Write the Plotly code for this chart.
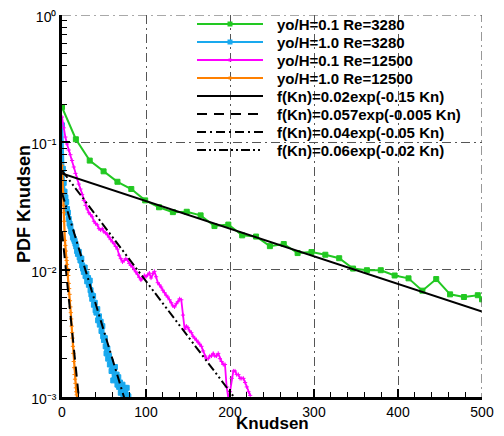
import math
import plotly.graph_objects as go

# ---------------- data ----------------
green_x = [16.5 * k for k in range(31)] + [500]
green_y = [0.189, 0.1057, 0.0719, 0.0592, 0.0490, 0.0430, 0.0350, 0.0309, 0.0283, 0.0285,
           0.0267, 0.0220, 0.0226, 0.0186, 0.0182, 0.0153, 0.0159, 0.0135, 0.01375, 0.0131,
           0.0123, 0.0102, 0.0099, 0.0099, 0.0090, 0.00855, 0.00684, 0.00844, 0.0064, 0.0061,
           0.0063, 0.00585]

blue_x = list(range(80))
blue_y = [0.136, 0.062, 0.048, 0.041, 0.037, 0.034, 0.030, 0.028, 0.025, 0.023,
          0.022, 0.020, 0.0195, 0.018, 0.0175, 0.0168, 0.016, 0.0152, 0.014, 0.0133,
          0.0138, 0.0125, 0.0118, 0.0122, 0.0108, 0.0102, 0.0096, 0.0104, 0.0089, 0.0093,
          0.0081, 0.0086, 0.0076, 0.0082, 0.0069, 0.0064, 0.0059, 0.0062, 0.0053, 0.0055,
          0.0048, 0.0046, 0.0049, 0.0040, 0.0043, 0.0037, 0.0039, 0.0033, 0.0036, 0.0030,
          0.0028, 0.0029, 0.0025, 0.0022, 0.0024, 0.0020, 0.0021, 0.0018, 0.0019, 0.0016,
          0.0017, 0.00135, 0.0016, 0.00172, 0.0014, 0.0015, 0.00125, 0.00143, 0.0012, 0.0013,
          0.00108, 0.00112, 0.00125, 0.00105, 0.0011, 0.00118, 0.00102, 0.00118, 0.00103, 0.00101]

pink_x = list(range(0, 226, 2))
pink_y = [0.158, 0.13, 0.11, 0.097, 0.087, 0.08, 0.072, 0.064, 0.057, 0.052,
          0.047, 0.043, 0.039, 0.035, 0.032, 0.030, 0.028, 0.027, 0.026, 0.024,
          0.023, 0.0225, 0.021, 0.0205, 0.0210, 0.0198, 0.0195, 0.0188, 0.018, 0.0172,
          0.0165, 0.016, 0.0152, 0.0145, 0.013, 0.0122, 0.0115, 0.0118, 0.0122, 0.0119,
          0.0112, 0.0108, 0.0105, 0.0100, 0.0096, 0.0092, 0.0087, 0.0083, 0.0086, 0.0090,
          0.0088, 0.0091, 0.0094, 0.0086, 0.0093, 0.0097, 0.0088, 0.0079, 0.0076, 0.0073,
          0.0069, 0.0066, 0.0063, 0.0061, 0.0058, 0.0055, 0.0052, 0.0051, 0.0054, 0.0056,
          0.0059, 0.0058, 0.0044, 0.0034, 0.0036, 0.0035, 0.0033, 0.0032, 0.0030, 0.0029,
          0.0028, 0.0027, 0.0026, 0.0025, 0.0023, 0.0021, 0.0020, 0.0020, 0.0021, 0.0021,
          0.0022, 0.0021, 0.0021, 0.0022, 0.0020, 0.0019, 0.0018, 0.0018, 0.0012, 0.00098,
          0.0011, 0.0014, 0.0016, 0.0016, 0.0015, 0.0015, 0.0014, 0.0014, 0.0014, 0.0013,
          0.0012, 0.0011, 0.00103]

orange_x = [0.5 * k for k in range(37)]
orange_y = [0.066, 0.05, 0.04, 0.032, 0.028, 0.024, 0.020, 0.017, 0.0155, 0.014,
            0.0125, 0.0118, 0.011, 0.0102, 0.0096, 0.0090, 0.0078, 0.0071, 0.0064, 0.0057,
            0.0051, 0.0046, 0.0041, 0.0036, 0.0032, 0.0029, 0.0025, 0.0022, 0.0019, 0.0017,
            0.0015, 0.00138, 0.00128, 0.00118, 0.0011, 0.00104, 0.00098]

series_names = ["yo/H=0.1 Re=3280", "yo/H=1.0 Re=3280", "yo/H=0.1 Re=12500", "yo/H=1.0 Re=12500"]
fit_names = ["f(Kn)=0.02exp(-0.15 Kn)", "f(Kn)=0.057exp(-0.005 Kn)",
             "f(Kn)=0.04exp(-0.05 Kn)", "f(Kn)=0.06exp(-0.02 Kn)"]

# fitted curves actually drawn (amplitude, decay rate)
fit_a = [0.057, 0.02, 0.04, 0.06]
fit_b = [0.005, 0.15, 0.05, 0.02]
fit_x_range = [0, 500]

x_ticks = [0, 100, 200, 300, 400, 500]
y_ticks = [1e-3, 1e-2, 1e-1, 1]
y_ticktext = ["10\u207b\u00b3", "10\u207b\u00b2", "10\u207b\u00b9", "10\u2070"]
x_title = "Knudsen"
y_title = "PDF Knudsen"

# ---------------- styles ----------------
GREEN = "#22c822"
BLUE = "#19a9ee"
PINK = "#ff00ff"
ORANGE = "#ff8000"
GRID = "#555555"
GRID_DASH = "9px,4px,2px,4px"
DASH_STYLES = ["solid", "10px,7px", "9px,4px,2px,4px", "9px,3px,2px,3px,2px,3px"]
FONT = "Liberation Sans, Arial, sans-serif"

# page body adds an 8px offset; layout positions below are in window pixels
OFF = 8
L, R, T, B = 62, 482, 15, 397
W, H = 504, 436

def paper_x(p):
    return (p - L) / (R - L)

def paper_y(p):
    return (B - p) / (B - T)

fig = go.Figure()

# top / right frame drawn like the dash-dot grid (window-pixel overlay axis)
fig.add_trace(go.Scatter(
    x=[L, R, R], y=[T, T, B], xaxis="x2", yaxis="y2", mode="lines",
    showlegend=False, hoverinfo="skip",
    line=dict(color=GRID, width=1.2, dash=GRID_DASH),
))

series = [
    (green_x, green_y, GREEN, "square", 5, 2),
    (blue_x, blue_y, BLUE, "square", 5, 2.5),
    (pink_x, pink_y, PINK, "cross-thin", 3, 1.8),
    (orange_x, orange_y, ORANGE, "cross-thin", 3, 2.2),
]
for (xs, ys, col, sym, ms, lw), name in zip(series, series_names):
    fig.add_trace(go.Scatter(
        x=xs, y=ys, name=name, mode="lines+markers", showlegend=False,
        line=dict(color=col, width=lw),
        marker=dict(symbol=sym, size=ms, color=col, line=dict(color=col, width=1)),
    ))

for a, b, d, name in zip(fit_a, fit_b, DASH_STYLES, fit_names):
    ys = [a * math.exp(-b * x) for x in fit_x_range]
    fig.add_trace(go.Scatter(
        x=fit_x_range, y=ys, mode="lines", showlegend=False, name=name,
        line=dict(color="black", width=2, dash=d),
    ))

# ---------------- manual legend on an overlay axis in window pixels ----------------
legend_cols = [GREEN, BLUE, PINK, ORANGE, "black", "black", "black", "black"]
legend_dash = ["solid"] * 4 + DASH_STYLES
legend_sym = ["square", "square", "square", "square", None, None, None, None]
legend_ms = [5, 5, 3, 3, 0, 0, 0, 0]
legend_text = series_names + fit_names
for i, (col, d, sym, ms, txt) in enumerate(zip(legend_cols, legend_dash, legend_sym,
                                              legend_ms, legend_text)):
    yy = 24 + 18 * i
    fig.add_trace(go.Scatter(
        x=[197, 263], y=[yy, yy], xaxis="x2", yaxis="y2", mode="lines",
        showlegend=False, hoverinfo="skip",
        line=dict(color=col, width=2.2, dash=d),
    ))
    if sym:
        fig.add_trace(go.Scatter(
            x=[230], y=[yy], xaxis="x2", yaxis="y2", mode="markers",
            showlegend=False, hoverinfo="skip",
            marker=dict(symbol=sym, size=ms, color=col),
        ))
    fig.add_annotation(xref="x2", yref="y2", x=275, y=yy,
                       xanchor="left", yanchor="middle", showarrow=False,
                       text=txt,
                       font=dict(family=FONT, size=15, color="black", weight="bold"))

# axis titles
fig.add_annotation(xref="paper", yref="paper", x=0.5, y=paper_y(423),
                   xanchor="center", yanchor="middle", showarrow=False, text=x_title,
                   font=dict(family=FONT, size=17, color="black", weight="bold"))
fig.add_annotation(xref="paper", yref="paper", x=paper_x(24), y=paper_y(204),
                   xanchor="center", yanchor="middle", showarrow=False, text=y_title,
                   textangle=-90,
                   font=dict(family=FONT, size=18, color="black", weight="bold"))

minor_y = [m * 10 ** e for e in (-3, -2, -1) for m in range(2, 10)]
fig.update_layout(
    width=W, height=H,
    margin=dict(l=L - OFF, r=W - R + OFF, t=T - OFF, b=H - B + OFF),
    paper_bgcolor="white", plot_bgcolor="white",
    font=dict(family=FONT, color="black", size=14),
    showlegend=False,
    xaxis=dict(
        range=[0, 500], tickvals=x_ticks, ticks="inside", ticklen=8, tickwidth=1.5,
        tickcolor="black", showline=True, linecolor="black", linewidth=2.5,
        showgrid=True, gridcolor=GRID, gridwidth=1.2, griddash=GRID_DASH,
        zeroline=False, tickfont=dict(size=14, family=FONT, color="black"),
        automargin=False, ticklabeloverflow="allow",
        minor=dict(dtick=20, tick0=0, ticks="inside", ticklen=5, tickwidth=1.2,
                   tickcolor="black", showgrid=False),
    ),
    yaxis=dict(
        type="log", range=[-3, 0], tickvals=y_ticks, ticktext=y_ticktext,
        ticks="inside", ticklen=8, tickwidth=1.5, tickcolor="black",
        showline=True, linecolor="black", linewidth=2.5,
        showgrid=True, gridcolor=GRID, gridwidth=1.2, griddash=GRID_DASH,
        zeroline=False, tickfont=dict(size=14, family=FONT, color="black"),
        automargin=False, ticklabeloverflow="allow", ticklabelshift=2,
        minor=dict(tickmode="array", tickvals=minor_y, ticks="inside", ticklen=5,
                   tickwidth=1.2, tickcolor="black", showgrid=False),
    ),
    xaxis2=dict(overlaying="x", anchor="y2", range=[L, R], visible=False,
                fixedrange=True),
    yaxis2=dict(overlaying="y", anchor="x2", range=[B, T], visible=False,
                fixedrange=True),
)

fig.write_html("out.html")
